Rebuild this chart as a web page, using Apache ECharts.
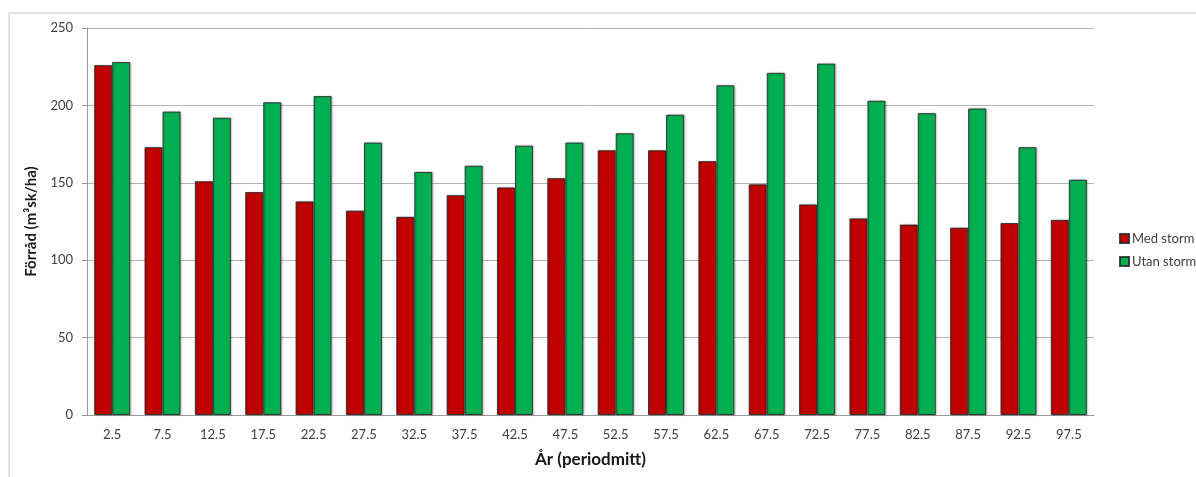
<!DOCTYPE html>
<html>
<head>
<meta charset="utf-8">
<script src="https://cdn.jsdelivr.net/npm/echarts@6/dist/echarts.min.js"></script>
<style>
  html, body { margin: 0; padding: 0; background: #fff; }
  #chart { width: 1196px; height: 477px; }
</style>
</head>
<body>
<div id="chart"></div>
<script>
// Period midpoints (years)
const categories = ['2.5','7.5','12.5','17.5','22.5','27.5','32.5','37.5','42.5','47.5',
                    '52.5','57.5','62.5','67.5','72.5','77.5','82.5','87.5','92.5','97.5'];
// Standing volume, m³sk/ha
const medStorm  = [226,173,151,144,138,132,128,142,147,153,171,171,164,149,136,127,123,121,124,126];
const utanStorm = [228,196,192,202,206,176,157,161,174,176,182,194,213,221,227,203,195,198,173,152];
const seriesNames = ['Med storm', 'Utan storm'];
const yTicks = [0, 50, 100, 150, 200, 250];

const font = 'Lato, "Open Sans", "Liberation Sans", sans-serif';
const chart = echarts.init(document.getElementById('chart'));

const barStyle = (color) => ({
  color: color,
  borderColor: 'rgba(40,40,40,0.85)',
  borderWidth: 1,
  shadowColor: 'rgba(0,0,0,0.25)',
  shadowBlur: 2,
  shadowOffsetX: 1,
  shadowOffsetY: 0
});

chart.setOption({
  animation: false,
  backgroundColor: '#ffffff',
  textStyle: { fontFamily: font },
  graphic: [{
    type: 'rect',
    shape: { x: 9, y: 13, width: 1200, height: 480 },
    style: { fill: 'none', stroke: '#c6c6c6', lineWidth: 1 },
    silent: true, z: -1
  }],
  grid: { left: 87, right: 102, top: 28, bottom: 62, containLabel: false },
  legend: {
    data: seriesNames,
    orient: 'vertical',
    left: 1114, top: 227,
    itemWidth: 9, itemHeight: 9, itemGap: 10,
    icon: 'rect',
    textStyle: { fontFamily: font, fontSize: 13, color: '#404040', padding: [0, 0, 0, -2] }
  },
  xAxis: {
    type: 'category',
    data: categories,
    name: 'År (periodmitt)',
    nameLocation: 'middle',
    nameGap: 36,
    nameTextStyle: { fontFamily: font, fontSize: 17, fontWeight: 'bold', color: '#1a1a1a' },
    axisLine: { lineStyle: { color: '#9a9a9a', width: 1 } },
    axisTick: { show: false },
    axisLabel: { fontFamily: font, fontSize: 13, color: '#404040', margin: 13 }
  },
  yAxis: {
    type: 'value',
    min: yTicks[0], max: yTicks[yTicks.length - 1], interval: 50,
    name: 'Förråd (m³sk/ha)',
    nameLocation: 'middle',
    nameGap: 48,
    nameTextStyle: { fontFamily: font, fontSize: 15, fontWeight: 'bold', color: '#1a1a1a' },
    axisLine: { show: true, lineStyle: { color: '#9a9a9a', width: 1 } },
    axisTick: { show: true, length: 5, lineStyle: { color: '#9a9a9a' } },
    axisLabel: { fontFamily: font, fontSize: 13, color: '#404040', margin: 14 },
    splitLine: { lineStyle: { color: '#b4b4b4', width: 1 } }
  },
  series: [
    { name: seriesNames[0], type: 'bar', data: medStorm, barWidth: 18, barGap: '0%', itemStyle: barStyle('#C00000') },
    { name: seriesNames[1], type: 'bar', data: utanStorm, barWidth: 18, barGap: '0%', itemStyle: barStyle('#00B050') }
  ]
});
</script>
</body>
</html>
